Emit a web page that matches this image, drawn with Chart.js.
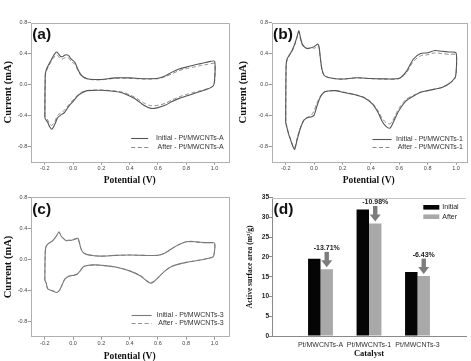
<!DOCTYPE html>
<html><head><meta charset="utf-8">
<script src="https://cdn.jsdelivr.net/npm/chart.js@4.4.1/dist/chart.umd.min.js"></script>
<style>
html,body{margin:0;padding:0;background:#fff;}
#wrap{position:relative;width:471px;height:361px;overflow:hidden;background:#fff;}
canvas{position:absolute;left:0;top:0;}
</style></head><body>
<div id="wrap">
<canvas id="ca" width="471" height="361"></canvas>
<canvas id="cb" width="471" height="361"></canvas>
<canvas id="cc" width="471" height="361"></canvas>
<canvas id="cd" width="471" height="361"></canvas>
</div>
<script>
// ---------- DATA ----------
const xTickValues = [-0.2, 0.0, 0.2, 0.4, 0.6, 0.8, 1.0];
const yTickValues = [-0.8, -0.4, 0.0, 0.4, 0.8];
const xTitle = 'Potential (V)';
const yTitle = 'Current (mA)';

// Panel (a) Pt/MWCNTs-A : potential loop (forward then reverse sweep)
const potA = [-0.2,-0.197,-0.19,-0.175,-0.16,-0.14,-0.125,-0.115,-0.105,-0.09,-0.075,-0.06,-0.045,-0.03,-0.015,0.0,0.015,0.03,0.05,0.07,0.1,0.15,0.2,0.3,0.4,0.5,0.6,0.65,0.7,0.75,0.8,0.85,0.9,0.95,1.0,
  1.0,0.99,0.95,0.9,0.85,0.8,0.75,0.7,0.65,0.6,0.55,0.5,0.45,0.4,0.35,0.3,0.2,0.1,0.06,0.03,0.0,-0.03,-0.06,-0.09,-0.11,-0.13,-0.15,-0.165,-0.18,-0.195,-0.2];
const initialA = [-0.43,0.12,0.19,0.25,0.30,0.37,0.41,0.42,0.40,0.365,0.36,0.38,0.385,0.37,0.33,0.31,0.28,0.21,0.14,0.10,0.075,0.065,0.065,0.085,0.085,0.075,0.08,0.11,0.16,0.20,0.225,0.25,0.27,0.29,0.30,
  0.05,-0.02,-0.06,-0.09,-0.12,-0.15,-0.18,-0.22,-0.27,-0.30,-0.31,-0.27,-0.20,-0.15,-0.11,-0.09,-0.075,-0.08,-0.11,-0.15,-0.22,-0.28,-0.36,-0.40,-0.43,-0.52,-0.58,-0.55,-0.49,-0.45,-0.43];
const afterA = [-0.41,0.11,0.17,0.23,0.28,0.34,0.375,0.385,0.365,0.335,0.33,0.345,0.35,0.34,0.30,0.28,0.26,0.20,0.13,0.095,0.07,0.06,0.06,0.08,0.08,0.07,0.075,0.10,0.14,0.18,0.205,0.225,0.245,0.26,0.27,
  0.04,-0.02,-0.055,-0.08,-0.105,-0.13,-0.16,-0.20,-0.245,-0.27,-0.275,-0.24,-0.18,-0.135,-0.10,-0.085,-0.072,-0.078,-0.10,-0.14,-0.20,-0.26,-0.33,-0.37,-0.40,-0.48,-0.53,-0.51,-0.46,-0.42,-0.41];

// Panel (b) Pt/MWCNTs-1
const potB = [-0.2,-0.197,-0.19,-0.175,-0.155,-0.135,-0.12,-0.108,-0.1,-0.085,-0.07,-0.055,-0.04,-0.02,0.0,0.015,0.025,0.035,0.045,0.055,0.07,0.1,0.15,0.2,0.3,0.4,0.5,0.6,0.65,0.7,0.75,0.8,0.85,0.9,0.95,1.0,
  1.0,0.99,0.95,0.9,0.85,0.8,0.75,0.7,0.65,0.6,0.575,0.55,0.535,0.51,0.48,0.45,0.41,0.35,0.3,0.2,0.15,0.1,0.07,0.045,0.02,0.0,-0.02,-0.04,-0.07,-0.095,-0.12,-0.137,-0.15,-0.165,-0.18,-0.195,-0.2];
const initialB = [-0.50,0.25,0.33,0.38,0.44,0.53,0.62,0.695,0.64,0.53,0.49,0.47,0.465,0.475,0.49,0.51,0.525,0.49,0.33,0.20,0.12,0.09,0.075,0.07,0.087,0.077,0.072,0.08,0.17,0.33,0.40,0.41,0.44,0.43,0.42,0.41,
  0.15,0.08,0.01,-0.04,-0.06,-0.08,-0.10,-0.15,-0.21,-0.33,-0.42,-0.52,-0.565,-0.55,-0.48,-0.36,-0.25,-0.17,-0.14,-0.10,-0.08,-0.085,-0.10,-0.16,-0.28,-0.40,-0.42,-0.425,-0.46,-0.56,-0.72,-0.84,-0.80,-0.72,-0.64,-0.53,-0.50];
const afterB = [-0.48,0.24,0.32,0.37,0.43,0.52,0.61,0.68,0.62,0.52,0.48,0.47,0.47,0.48,0.47,0.48,0.50,0.47,0.32,0.20,0.12,0.09,0.075,0.07,0.085,0.075,0.07,0.075,0.15,0.30,0.37,0.385,0.41,0.40,0.39,0.385,
  0.14,0.07,0.01,-0.04,-0.06,-0.08,-0.10,-0.14,-0.19,-0.30,-0.39,-0.48,-0.51,-0.50,-0.44,-0.34,-0.24,-0.165,-0.135,-0.095,-0.078,-0.085,-0.10,-0.15,-0.24,-0.34,-0.40,-0.42,-0.45,-0.55,-0.70,-0.82,-0.79,-0.71,-0.63,-0.52,-0.48];

// Panel (c) Pt/MWCNTs-3
const potC = [-0.2,-0.197,-0.19,-0.17,-0.15,-0.13,-0.115,-0.1,-0.085,-0.07,-0.05,-0.03,-0.01,0.01,0.025,0.035,0.045,0.055,0.07,0.1,0.15,0.2,0.3,0.4,0.5,0.6,0.65,0.7,0.75,0.8,0.85,0.9,0.95,1.0,
  1.0,0.99,0.95,0.9,0.8,0.7,0.65,0.6,0.57,0.55,0.52,0.48,0.4,0.3,0.2,0.15,0.1,0.07,0.05,0.03,0.01,-0.02,-0.04,-0.06,-0.08,-0.1,-0.12,-0.14,-0.16,-0.18,-0.19,-0.2];
const initialC = [-0.27,0.10,0.17,0.21,0.23,0.27,0.31,0.355,0.30,0.27,0.24,0.245,0.245,0.26,0.27,0.27,0.21,0.14,0.09,0.06,0.045,0.04,0.05,0.055,0.05,0.05,0.08,0.14,0.19,0.225,0.23,0.22,0.215,0.21,
  0.10,0.03,0.01,-0.01,-0.04,-0.09,-0.15,-0.24,-0.29,-0.31,-0.28,-0.22,-0.15,-0.10,-0.078,-0.073,-0.08,-0.10,-0.15,-0.19,-0.205,-0.215,-0.23,-0.26,-0.34,-0.41,-0.43,-0.41,-0.40,-0.38,-0.31,-0.27];
const afterC = [-0.27,0.10,0.17,0.21,0.23,0.27,0.31,0.35,0.30,0.27,0.245,0.245,0.245,0.255,0.265,0.265,0.21,0.14,0.09,0.06,0.045,0.04,0.05,0.055,0.05,0.05,0.08,0.14,0.19,0.225,0.225,0.215,0.21,0.205,
  0.10,0.03,0.01,-0.01,-0.04,-0.09,-0.15,-0.24,-0.285,-0.30,-0.275,-0.215,-0.15,-0.10,-0.078,-0.073,-0.08,-0.10,-0.15,-0.19,-0.20,-0.21,-0.225,-0.26,-0.34,-0.41,-0.43,-0.41,-0.40,-0.38,-0.31,-0.27];

// Panel (d) bar chart
const catalysts = ['Pt/MWCNTs-A', 'Pt/MWCNTs-1', 'Pt/MWCNTs-3'];
const initialArea = [19.55, 32.0, 16.2];
const afterArea = [16.87, 28.49, 15.16];
const changeLabels = ['-13.71%', '-10.98%', '-6.43%'];
const areaTicks = [0, 5, 10, 15, 20, 25, 30, 35];

// ---------- PLUGIN ----------
const panelPlugin = {
  id: 'panel',
  beforeDatasetsDraw(chart, args, o) {
    const a = chart.chartArea, ctx = chart.ctx;
    ctx.save();
    ctx.strokeStyle = o.frameColor || '#aaa';
    ctx.lineWidth = 1;
    if (o.frame) {
      ctx.strokeRect(Math.round(a.left) + 0.5, Math.round(a.top) + 0.5, Math.round(a.right - a.left), Math.round(a.bottom - a.top));
    }
    if (o.topLine) {
      ctx.beginPath();
      ctx.moveTo(a.left, Math.round(a.top) + 0.5);
      ctx.lineTo(a.right, Math.round(a.top) + 0.5);
      ctx.stroke();
    }
    ctx.restore();
  },
  afterDatasetsDraw(chart, args, o) {
    const a = chart.chartArea, ctx = chart.ctx;
    ctx.save();
    if (o.arrows) {
      const meta = chart.getDatasetMeta(1);
      o.arrows.forEach((t, i) => {
        const el = meta.data[i + 1];
        const x = el.x, tip = el.y - 2, top = tip - 15.5;
        ctx.fillStyle = '#7c7c7c';
        ctx.fillRect(x - 2.2, top, 4.4, 9);
        ctx.beginPath();
        ctx.moveTo(x - 5.5, top + 8.5);
        ctx.lineTo(x + 5.5, top + 8.5);
        ctx.lineTo(x, tip);
        ctx.closePath();
        ctx.fill();
        ctx.fillStyle = '#222';
        ctx.font = 'bold 7px "Liberation Sans"';
        ctx.textAlign = 'center';
        ctx.textBaseline = 'middle';
        ctx.fillText(t, x, top - 4);
      });
    }
    ctx.restore();
  },
  afterDraw(chart, args, o) {
    const a = chart.chartArea, ctx = chart.ctx;
    ctx.save();
    ctx.fillStyle = '#111';
    ctx.font = 'bold 15.5px "Liberation Sans"';
    ctx.textAlign = 'left';
    ctx.textBaseline = 'middle';
    ctx.fillText(o.letter, a.left + 1.5, a.top + 12.5);
    const L = o.lineLegend;
    if (L) {
      chart.data.datasets.forEach((ds, i) => {
        const y = Math.round(a.bottom + L.y[i]) + 0.5;
        ctx.strokeStyle = ds.borderColor;
        ctx.lineWidth = ds.borderWidth;
        ctx.setLineDash(ds.borderDash || []);
        ctx.beginPath();
        ctx.moveTo(a.right + L.x1, y);
        ctx.lineTo(a.right + L.x2, y);
        ctx.stroke();
        ctx.setLineDash([]);
        ctx.fillStyle = '#333';
        ctx.font = '7px "Liberation Sans"';
        ctx.textAlign = 'right';
        ctx.textBaseline = 'middle';
        ctx.fillText(ds.label, a.right + L.tr, y);
      });
    }
    const B = o.boxLegend;
    if (B) {
      chart.data.datasets.forEach((ds, i) => {
        const y = a.top + B.y[i];
        ctx.fillStyle = ds.backgroundColor;
        ctx.fillRect(a.right + B.x1, y - 2.3, B.w, 4.6);
        ctx.fillStyle = '#222';
        ctx.font = '7px "Liberation Sans"';
        ctx.textAlign = 'left';
        ctx.textBaseline = 'middle';
        ctx.fillText(ds.label, a.right + B.x1 + B.w + 3, y);
      });
    }
    ctx.restore();
  }
};

function loop(pot, cur) { return pot.map((x, i) => ({ x: x, y: cur[i] })); }

function makeCV(id, pot, init, after, names, g, colors) {
  return new Chart(document.getElementById(id), {
    type: 'scatter',
    data: { datasets: [
      { label: names[0], data: loop(pot, init), showLine: true, borderColor: colors[0], borderWidth: 1.1, pointRadius: 0, tension: 0.25, fill: false },
      { label: names[1], data: loop(pot, after), showLine: true, borderColor: colors[1], borderWidth: 1, borderDash: [4, 2.5], pointRadius: 0, tension: 0.25, fill: false }
    ]},
    options: {
      responsive: false, animation: false, events: [],
      layout: { padding: { left: g.l - g.yW, top: g.t, right: 471 - g.r, bottom: 361 - g.b - g.xH } },
      plugins: {
        legend: { display: false }, tooltip: { enabled: false },
        panel: { letter: g.letter, frame: true, frameColor: '#b0b0b0', lineLegend: g.legend }
      },
      scales: {
        x: {
          type: 'linear', min: g.xmin, max: g.xmax,
          afterBuildTicks: s => { s.ticks = xTickValues.map(v => ({ value: v })); },
          afterFit: s => { s.height = g.xH; },
          ticks: { font: { family: 'Liberation Sans', size: 5.5 }, color: '#444', padding: 0.5, maxRotation: 0, autoSkip: false, callback: v => v.toFixed(1) },
          grid: { drawOnChartArea: false, drawTicks: true, tickLength: 3, color: '#999' },
          border: { display: false },
          title: { display: true, text: xTitle, color: '#111', font: { family: 'Liberation Serif', size: 9.5, weight: 'bold', lineHeight: g.xtLH }, padding: { top: 0, bottom: 0 } }
        },
        y: {
          type: 'linear', min: -1.0, max: 0.8,
          afterBuildTicks: s => { s.ticks = yTickValues.map(v => ({ value: v })); },
          afterFit: s => { s.width = g.yW; },
          ticks: { font: { family: 'Liberation Sans', size: 5.5 }, color: '#444', padding: 0.5, autoSkip: false, callback: v => v.toFixed(1) },
          grid: { drawOnChartArea: false, drawTicks: true, tickLength: 3, color: '#999' },
          border: { display: false },
          title: { display: true, text: yTitle, color: '#111', font: { family: 'Liberation Serif', size: 10.5, weight: 'bold' }, padding: { top: g.ytPad, bottom: 0 } }
        }
      }
    },
    plugins: [panelPlugin]
  });
}

makeCV('ca', potA, initialA, afterA, ['Initial - Pt/MWCNTs-A', 'After - Pt/MWCNTs-A'],
  { l: 30.7, r: 228.7, t: 22.7, b: 161.7, yW: 30.7, xH: 25, xmin: -0.3, xmax: 1.1, letter: '(a)', ytPad: 2, xtLH: 1.2,
    legend: { x1: -97.5, x2: -80.5, tr: -5, y: [-24, -15] } }, ['#555', '#8a8a8a']);

makeCV('cb', potB, initialB, afterB, ['Initial - Pt/MWCNTs-1', 'After - Pt/MWCNTs-1'],
  { l: 271.5, r: 466, t: 22.7, b: 161.7, yW: 36, xH: 25, xmin: -0.3, xmax: 1.07, letter: '(b)', ytPad: 1.5, xtLH: 1.2,
    legend: { x1: -93.5, x2: -74.5, tr: -3, y: [-23, -15] } }, ['#555', '#8a8a8a']);

makeCV('cc', potC, initialC, afterC, ['Initial - Pt/MWCNTs-3', 'After - Pt/MWCNTs-3'],
  { l: 30.7, r: 228.6, t: 197.3, b: 336.7, yW: 30.7, xH: 24.3, xmin: -0.3, xmax: 1.1, letter: '(c)', ytPad: 2, xtLH: 1.0,
    legend: { x1: -97, x2: -77, tr: -5, y: [-21.7, -13.4] } }, ['#7a7a7a', '#8f8f8f']);

// Panel (d)
new Chart(document.getElementById('cd'), {
  type: 'bar',
  data: {
    labels: [''].concat(catalysts, ['']),
    datasets: [
      { label: 'Initial', data: [null].concat(initialArea, [null]), backgroundColor: '#050505', borderWidth: 0 },
      { label: 'After', data: [null].concat(afterArea, [null]), backgroundColor: '#a9a9a9', borderWidth: 0 }
    ]
  },
  options: {
    responsive: false, animation: false, events: [],
    datasets: { bar: { categoryPercentage: 0.513, barPercentage: 1.0 } },
    layout: { padding: { left: 272 - 30, top: 197.7, right: 1, bottom: 361 - 336 - 23.1 } },
    plugins: {
      legend: { display: false }, tooltip: { enabled: false },
      panel: { letter: '(d)', frame: false, topLine: true, frameColor: '#c4c4c4', arrows: changeLabels,
               boxLegend: { x1: -42.7, w: 16, y: [9.6, 19] } }
    },
    scales: {
      x: {
        offset: false,
        afterFit: s => { s.height = 23.1; },
        grid: { display: false, drawTicks: false, offset: false },
        border: { display: true, color: '#8a8a8a' },
        ticks: { font: { family: 'Liberation Sans', size: 7 }, color: '#333', padding: 5, maxRotation: 0, autoSkip: false },
        title: { display: true, text: 'Catalyst', color: '#111', font: { family: 'Liberation Serif', size: 8.5, weight: 'bold' }, padding: { top: 0, bottom: 0 } }
      },
      y: {
        min: 0, max: 35,
        afterBuildTicks: s => { s.ticks = areaTicks.map(v => ({ value: v })); },
        afterFit: s => { s.width = 30; },
        grid: { drawOnChartArea: false, drawTicks: true, tickLength: 3, color: '#8a8a8a' },
        border: { display: true, color: '#8a8a8a' },
        ticks: { font: { family: 'Liberation Sans', size: 6.5, weight: 'bold' }, color: '#222', padding: 0, autoSkip: false },
        title: { display: true, text: 'Active surface area (m²/g)', color: '#111', font: { family: 'Liberation Serif', size: 7.5, weight: 'bold' }, padding: { top: 3.5, bottom: 0 } }
      }
    }
  },
  plugins: [panelPlugin]
});
</script>
</body></html>
